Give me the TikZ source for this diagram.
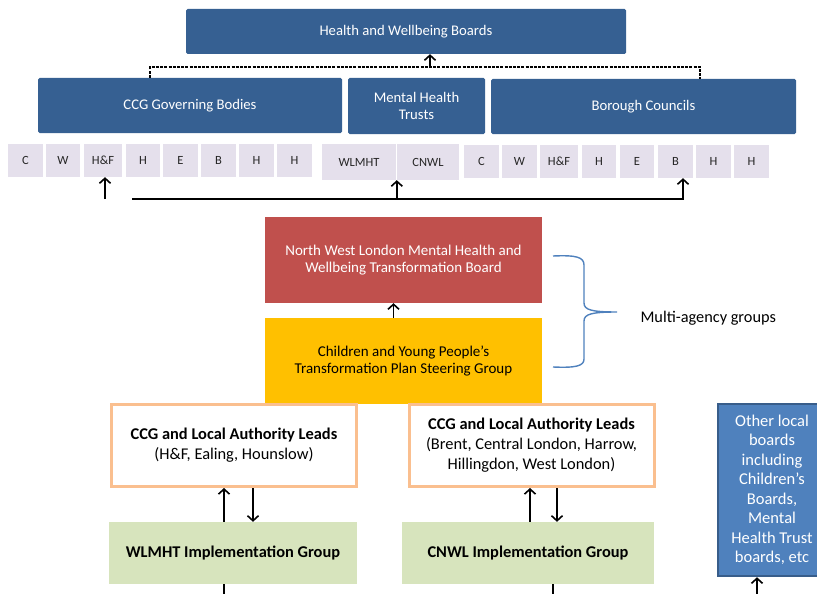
\documentclass[tikz,border=0pt]{standalone}
\usepackage{fontspec}
\setmainfont{Carlito}
\usetikzlibrary{arrows.meta}
\definecolor{boardblue}{RGB}{54,96,146}
\definecolor{boardred}{RGB}{192,80,77}
\definecolor{steeryellow}{RGB}{255,192,0}
\definecolor{leadorange}{RGB}{250,191,143}
\definecolor{implgreen}{RGB}{215,228,189}
\definecolor{otherblue}{RGB}{79,129,189}
\definecolor{otheredge}{RGB}{56,93,138}
\definecolor{orglilac}{RGB}{229,224,236}
\tikzstyle{board}=[rectangle,fill=boardblue,text=white,rounded corners=1.5pt,inner sep=0,align=center,font=\fontsize{14.7}{17.5}\selectfont]
\tikzstyle{org}=[rectangle,fill=orglilac,inner sep=0,minimum height=33pt,text=black!85,font=\fontsize{12.5}{15}\selectfont]
\tikzstyle{group}=[rectangle,minimum width=277pt,minimum height=86pt,inner sep=0,align=center,font=\fontsize{15}{17.5}\selectfont]
\tikzstyle{lead}=[rectangle,draw=leadorange,line width=3pt,fill=white,minimum width=245pt,minimum height=82pt,inner sep=0,align=center,font=\fontsize{16.4}{20}\selectfont]
\tikzstyle{impl}=[rectangle,fill=implgreen,minimum height=62pt,inner sep=0,font=\fontsize{16.4}{19}\selectfont\bfseries]
\tikzstyle{other}=[rectangle,fill=otherblue,draw=otheredge,line width=2.5pt,minimum width=108pt,minimum height=172pt,inner sep=0,text=white,align=center,font=\fontsize{16.5}{19.5}\selectfont]
\tikzstyle{arrow} = [line width=1.6pt,-{Straight Barb[length=5pt,width=11pt]}]
\tikzstyle{feed} = [line width=1.6pt,dash pattern=on 3pt off 1.2pt]

\begin{document}
\begin{tikzpicture}[x=1pt,y=-1pt]
\useasboundingbox (0,0) rectangle (817,594);

\node[board,minimum width=440pt,minimum height=45pt] (hwb) at (406,31.5) {Health and Wellbeing Boards};
\node[board,minimum width=304pt,minimum height=55pt] (ccg) at (190,105.5) {CCG Governing Bodies};
\node[board,minimum width=137pt,minimum height=56pt] (mht) at (416.5,106) {Mental Health\\Trusts};
\node[board,minimum width=305pt,minimum height=55pt] (boro) at (643.5,106.5) {Borough Councils};

\foreach \x/\w/\t [count=\i] in {25.5/35/C,63/34/W,103/38/H\&F,143/34/H,180.5/35/E,218.5/35/B,256.5/35/H,294.5/35/H}{
	\node[org,minimum width=\w pt] (c\i) at (\x,160.5) {\t};}
\node[org,minimum width=74pt,minimum height=36pt] (wlmht) at (359,162) {WLMHT};
\node[org,minimum width=62pt,minimum height=36pt] (cnwl) at (428,162) {CNWL};
\foreach \x/\w/\t [count=\i] in {481.5/35/C,519.5/35/W,559/38/H\&F,599/34/H,637/34/E,675.5/35/B,713.5/35/H,751.5/35/H}{
	\node[org,minimum width=\w pt] (b\i) at (\x,161.5) {\t};}

\coordinate (ccgtap) at (150,67);
\coordinate (borotap) at (700,67);
\coordinate (hwbtap) at (430,67);
\draw[feed] (ccgtap |- ccg.north) -- (ccgtap) -- (borotap) -- (borotap |- boro.north);
\draw[arrow] (hwbtap) -- (hwbtap |- hwb.south);

\coordinate (hfbase) at (105,199);
\coordinate (rowstart) at (132,199);
\coordinate (rowend) at (683,199);
\draw[arrow] (hfbase) -- (hfbase |- c3.south);
\draw[arrow] (rowstart) -- (rowend) -- (rowend |- b6.south);
\draw[arrow] (cnwl.south west |- rowstart) -- (cnwl.south west);

\node[group,fill=boardred,text=white] (nwl) at (403.5,260) {North West London Mental Health and\\Wellbeing Transformation Board};
\node[group,fill=steeryellow] (cyp) at (403.5,361) {Children and Young People’s\\Transformation Plan Steering Group};
\draw[arrow] ([xshift=-10pt]cyp.north) -- ([xshift=-10pt]nwl.south);

\draw[otherblue,line width=1.4pt] (553,256) .. controls (576,255) and (584,257) .. (584,265) -- (584,303)
	.. controls (584,310) and (592,312) .. (617,312) .. controls (592,312) and (584,314) .. (584,321)
	-- (584,359) .. controls (584,366) and (576,368) .. (553,367);
\node[anchor=west,font=\fontsize{16.3}{19}\selectfont] (multi) at (637,318) {Multi-agency groups};

\node[lead] (leadw) at (234,445.5) {\textbf{CCG and Local Authority Leads}\\(H\&F, Ealing, Hounslow)};
\node[lead] (leadc) at (531.5,445.5) {\textbf{CCG and Local Authority Leads}\\(Brent, Central London, Harrow,\\Hillingdon, West London)};

\node[impl,minimum width=248pt] (implw) at (233,553) {WLMHT Implementation Group};
\node[impl,minimum width=252pt] (implc) at (528,553) {CNWL Implementation Group};

\draw[arrow] ([xshift=-9pt]implw.north) -- ([xshift=-9pt]implw.north |- leadw.south);
\draw[arrow] ([xshift=20pt]implw.north |- leadw.south) -- ([xshift=20pt]implw.north);
\draw[arrow] ([xshift=2pt]implc.north) -- ([xshift=2pt]implc.north |- leadc.south);
\draw[arrow] ([xshift=29pt]implc.north |- leadc.south) -- ([xshift=29pt]implc.north);

\node[other] (otherb) at (772,490) {Other local\\boards\\including\\Children’s\\Boards,\\Mental\\Health Trust\\boards, etc};

\coordinate (wout) at (224,594);
\coordinate (cout) at (553,594);
\coordinate (oin) at (757,594);
\draw[line width=1.6pt] (wout |- implw.south) -- (wout);
\draw[line width=1.6pt] (cout |- implc.south) -- (cout);
\draw[arrow] (oin) -- (oin |- otherb.south);
\end{tikzpicture}
\end{document}
